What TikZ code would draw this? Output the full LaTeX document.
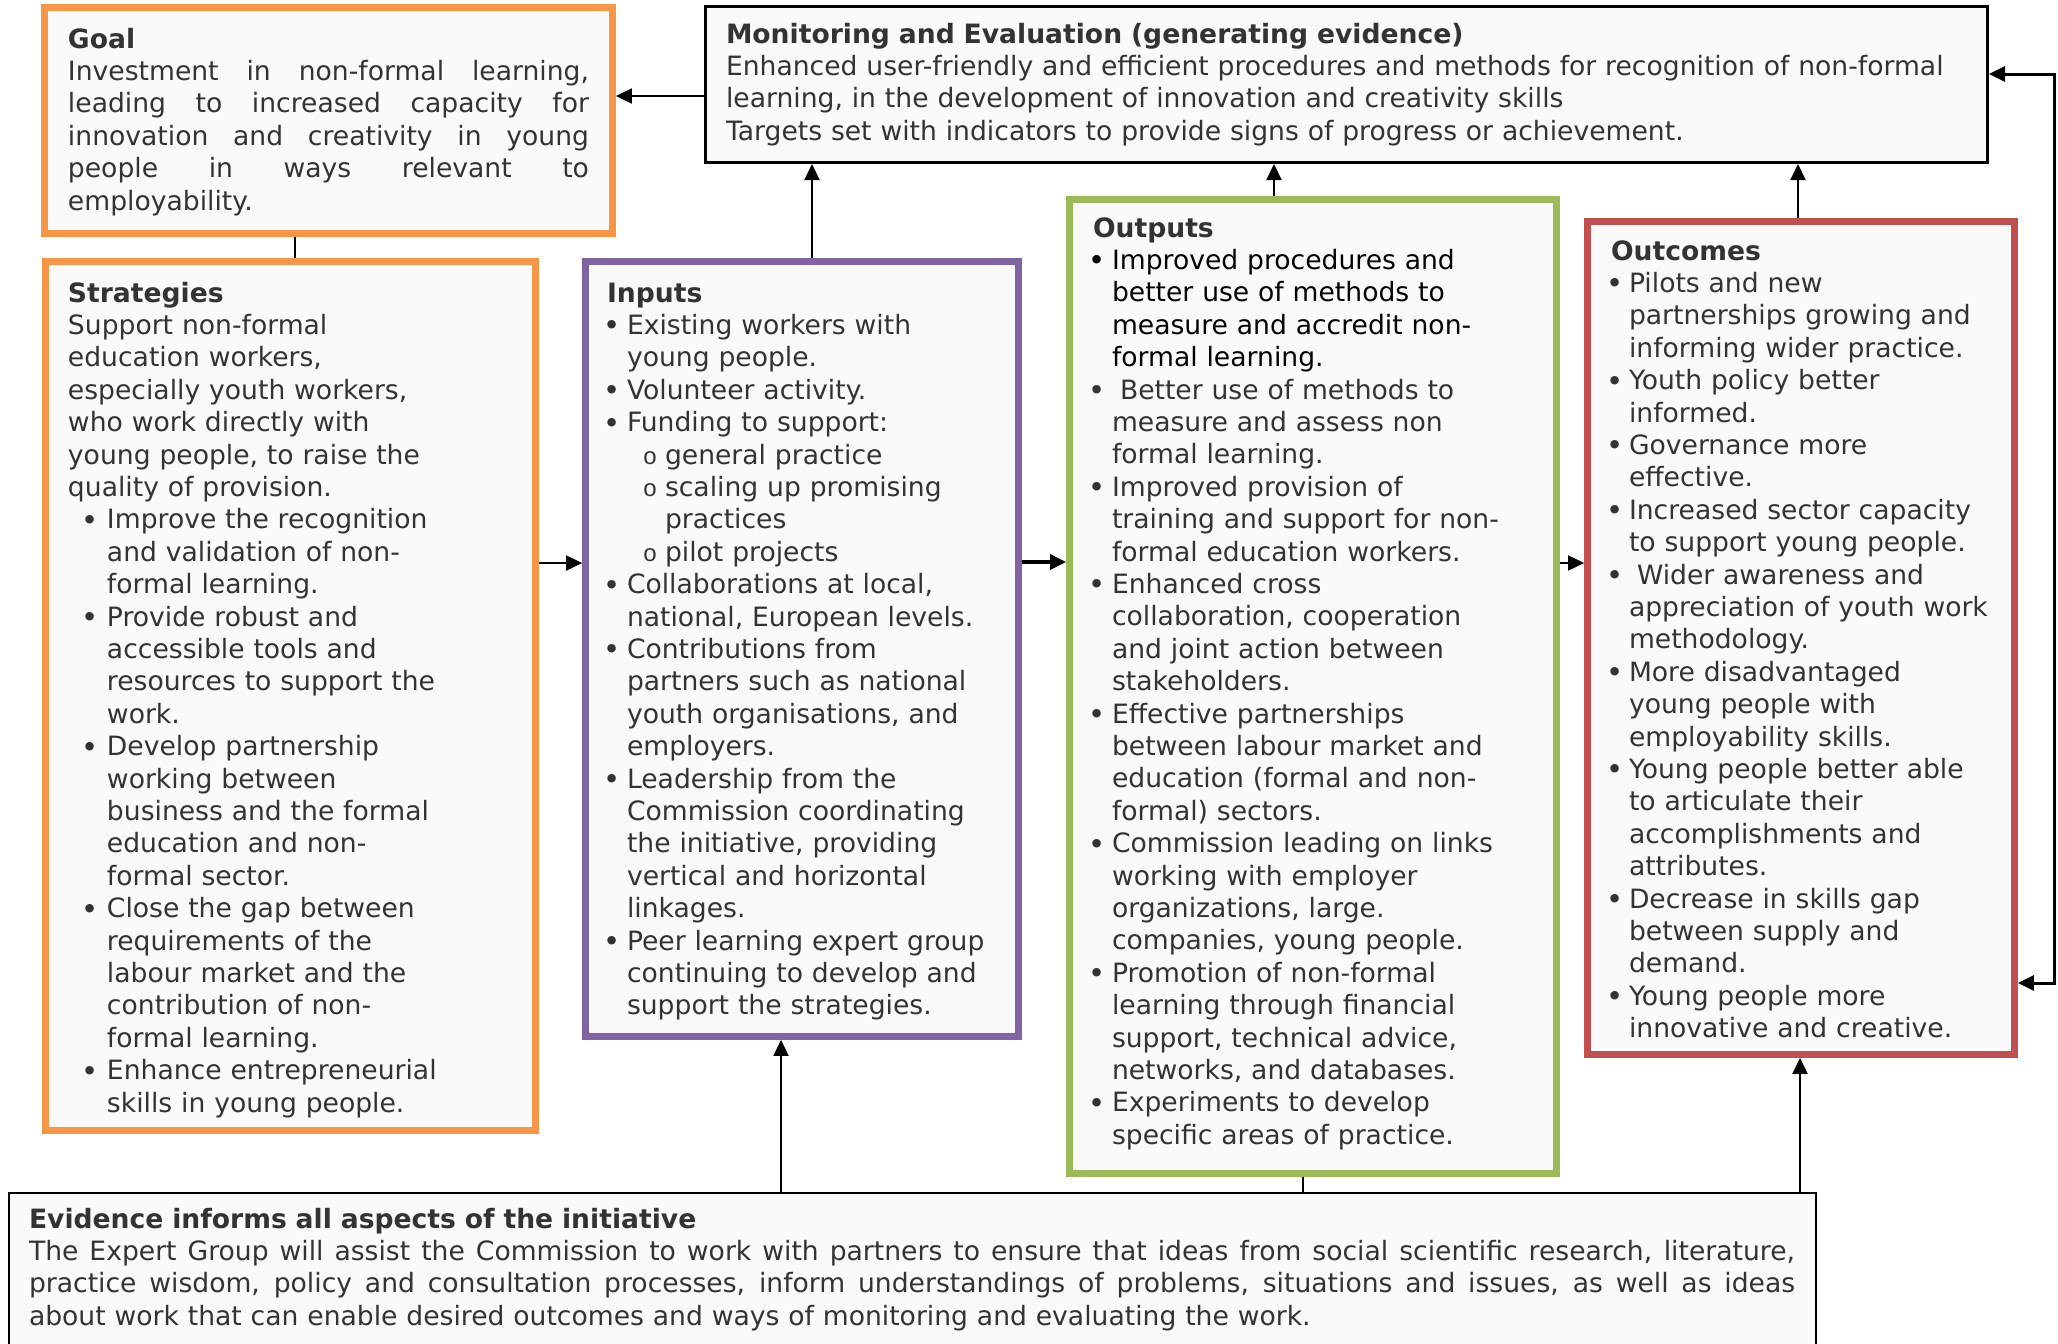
\documentclass[tikz,border=0pt]{standalone}
\usepackage{fontspec}
\setmainfont{DejaVu Sans}
\newfontfamily\monof{Liberation Mono}
\usetikzlibrary{arrows.meta,fit}
\definecolor{ora}{HTML}{F79646}
\definecolor{pur}{HTML}{8064A2}
\definecolor{grn}{HTML}{9BBB59}
\definecolor{redb}{HTML}{C0504D}
\definecolor{boxfill}{HTML}{FAFAFA}
\definecolor{txt}{HTML}{333333}
\newcommand\fs{\fontsize{13.3}{16.2}\selectfont}
\newlength\bc \newlength\tx \newlength\sbc \newlength\stx
\newcommand\bul{\raisebox{-0.7pt}{\fontsize{14.5}{14.5}\selectfont •}}
\newcommand\sbul{{\monof\fontsize{12}{12}\selectfont o}}
\newcommand\Bu[1]{\hspace*{\bc}\makebox[0pt]{\bul}\hspace*{\dimexpr\tx-\bc\relax}#1}
\newcommand\Ln[1]{\hspace*{\tx}#1}
\newcommand\Sb[1]{\hspace*{\sbc}\makebox[0pt]{\sbul}\hspace*{\dimexpr\stx-\sbc\relax}#1}
\newcommand\SLn[1]{\hspace*{\stx}#1}
\newcommand\J[1]{\makebox[\linewidth][s]{\spaceskip=\fontdimen2\font plus 1fil\relax\xspaceskip=\spaceskip#1}}
\tikzset{
  box/.style={draw, fill=boxfill, inner sep=0pt},
  cbox/.style={box, line width=3.4pt},
  txtnode/.style={anchor=base west, inner sep=0pt, outer sep=0pt, text width=#1, align=left, font=\fs, text=txt},
  txtnode/.default=420pt,
  arr/.style={line width=1pt, -{Triangle[length=8pt,width=7.5pt]}},
  plain/.style={line width=0.8pt},
}
\begin{document}
\begin{tikzpicture}[x=0.5pt,y=-0.5pt]
\fill[white] (0,0) rectangle (2058,1344);
\useasboundingbox (0,0) rectangle (2058,1344);
% boxes
\node[cbox, draw=ora, fit={(44.5,7.5)(612.5,233.5)}] (goal) {};
\node[box, line width=1.5pt, draw=black, fit={(705.5,6.5)(1987.5,162.5)}] (mon) {};
\node[cbox, draw=ora, fit={(45.5,261.5)(535.5,1130.5)}] (strat) {};
\node[cbox, draw=pur, fit={(585.5,261.5)(1018.5,1036.5)}] (inp) {};
\node[cbox, draw=grn, fit={(1069.5,199.5)(1556.5,1173.5)}] (outp) {};
\node[cbox, draw=redb, fit={(1587.5,221.5)(2014.5,1054.5)}] (outc) {};
\node[box, line width=1.1pt, draw=black, fit={(9,1193)(1816,1370)}] (evid) {};
% texts
\node[txtnode=260.5pt] (goalt) at (68,48) {{\bfseries Goal}\\
\J{Investment in non-formal learning,}\\
\J{leading to increased capacity for}\\
\J{innovation and creativity in young}\\
\J{people in ways relevant to}\\
employability.};
\node[txtnode=660pt] (mont) at (726,43) {{\bfseries Monitoring and Evaluation (generating evidence)}\\
Enhanced user-friendly and efficient procedures and methods for recognition of non-formal\\
learning, in the development of innovation and creativity skills\\
Targets set with indicators to provide signs of progress or achievement.};
\node[txtnode] (stratt) at (68,302) {\setlength\bc{11pt}\setlength\tx{19.5pt}{\bfseries Strategies}\\
Support non-formal\\
education workers,\\
especially youth workers,\\
who work directly with\\
young people, to raise the\\
quality of provision.\\
\Bu{Improve the recognition}\\
\Ln{and validation of non-}\\
\Ln{formal learning.}\\
\Bu{Provide robust and}\\
\Ln{accessible tools and}\\
\Ln{resources to support the}\\
\Ln{work.}\\
\Bu{Develop partnership}\\
\Ln{working between}\\
\Ln{business and the formal}\\
\Ln{education and non-}\\
\Ln{formal sector.}\\
\Bu{Close the gap between}\\
\Ln{requirements of the}\\
\Ln{labour market and the}\\
\Ln{contribution of non-}\\
\Ln{formal learning.}\\
\Bu{Enhance entrepreneurial}\\
\Ln{skills in young people.}};
\node[txtnode] (inpt) at (607,302) {\setlength\bc{2.5pt}\setlength\tx{10pt}\setlength\sbc{21.5pt}\setlength\stx{29pt}{\bfseries Inputs}\\
\Bu{Existing workers with}\\
\Ln{young people.}\\
\Bu{Volunteer activity.}\\
\Bu{Funding to support:}\\
\Sb{general practice}\\
\Sb{scaling up promising}\\
\SLn{practices}\\
\Sb{pilot projects}\\
\Bu{Collaborations at local,}\\
\Ln{national, European levels.}\\
\Bu{Contributions from}\\
\Ln{partners such as national}\\
\Ln{youth organisations, and}\\
\Ln{employers.}\\
\Bu{Leadership from the}\\
\Ln{Commission coordinating}\\
\Ln{the initiative, providing}\\
\Ln{vertical and horizontal}\\
\Ln{linkages.}\\
\Bu{Peer learning expert group}\\
\Ln{continuing to develop and}\\
\Ln{support the strategies.}};
\node[txtnode] (outpt) at (1093,237) {\setlength\bc{2pt}\setlength\tx{9.5pt}{\bfseries Outputs}\\
\color{black}\Bu{Improved procedures and}\\
\Ln{better use of methods to}\\
\Ln{measure and accredit non-}\\
\Ln{formal learning.}\color{txt}\\
\Bu{\hspace*{4pt}Better use of methods to}\\
\Ln{measure and assess non}\\
\Ln{formal learning.}\\
\Bu{Improved provision of}\\
\Ln{training and support for non-}\\
\Ln{formal education workers.}\\
\Bu{Enhanced cross}\\
\Ln{collaboration, cooperation}\\
\Ln{and joint action between}\\
\Ln{stakeholders.}\\
\Bu{Effective partnerships}\\
\Ln{between labour market and}\\
\Ln{education (formal and non-}\\
\Ln{formal) sectors.}\\
\Bu{Commission leading on links}\\
\Ln{working with employer}\\
\Ln{organizations, large.}\\
\Ln{companies, young people.}\\
\Bu{Promotion of non-formal}\\
\Ln{learning through financial}\\
\Ln{support, technical advice,}\\
\Ln{networks, and databases.}\\
\Bu{Experiments to develop}\\
\Ln{specific areas of practice.}};
\node[txtnode] (outct) at (1611,260) {\setlength\bc{2pt}\setlength\tx{9pt}{\bfseries Outcomes}\\
\Bu{Pilots and new}\\
\Ln{partnerships growing and}\\
\Ln{informing wider practice.}\\
\Bu{Youth policy better}\\
\Ln{informed.}\\
\Bu{Governance more}\\
\Ln{effective.}\\
\Bu{Increased sector capacity}\\
\Ln{to support young people.}\\
\Bu{\hspace*{4pt}Wider awareness and}\\
\Ln{appreciation of youth work}\\
\Ln{methodology.}\\
\Bu{More disadvantaged}\\
\Ln{young people with}\\
\Ln{employability skills.}\\
\Bu{Young people better able}\\
\Ln{to articulate their}\\
\Ln{accomplishments and}\\
\Ln{attributes.}\\
\Bu{Decrease in skills gap}\\
\Ln{between supply and}\\
\Ln{demand.}\\
\Bu{Young people more}\\
\Ln{innovative and creative.}};
\node[txtnode=883pt] (evidt) at (29,1228) {{\bfseries Evidence informs all aspects of the initiative}\\
\J{The Expert Group will assist the Commission to work with partners to ensure that ideas from social scientific research, literature,}\\
\J{practice wisdom, policy and consultation processes, inform understandings of problems, situations and issues, as well as ideas}\\
about work that can enable desired outcomes and ways of monitoring and evaluating the work.};
% helper coordinates
\coordinate (y74) at (0,74);
\coordinate (y96) at (0,96);
\coordinate (y562) at (0,562);
\coordinate (y563) at (0,563);
\coordinate (y983) at (0,983);
\coordinate (x295) at (295,0);
\coordinate (x781) at (781,0);
\coordinate (x812) at (812,0);
\coordinate (x1274) at (1274,0);
\coordinate (x1303) at (1303,0);
\coordinate (x1798) at (1798,0);
\coordinate (x1800) at (1800,0);
\coordinate (fb) at (2054,74);
% connectors
\draw[arr] (mon.west |- y96) -- (goal.east |- y96);
\draw[plain] (goal.south -| x295) -- (strat.north -| x295);
\draw[arr] (strat.east |- y563) -- (inp.west |- y563);
\draw[arr, line width=1.6pt] (inp.east |- y562) -- (outp.west |- y562);
\draw[arr] (outp.east |- y563) -- (outc.west |- y563);
\draw[arr] (inp.north -| x812) -- (mon.south -| x812);
\draw[arr] (outp.north -| x1274) -- (mon.south -| x1274);
\draw[arr] (outc.north -| x1798) -- (mon.south -| x1798);
\draw[arr] (evid.north -| x781) -- (inp.south -| x781);
\draw[arr] (evid.north -| x1800) -- (outc.south -| x1800);
\draw[plain] (outp.south -| x1303) -- (evid.north -| x1303);
\draw[line width=1.5pt, {Triangle[length=8pt,width=7.5pt]}-{Triangle[length=8pt,width=7.5pt]}]
  (outc.east |- y983) -| (fb) -- (mon.east |- y74);
\end{tikzpicture}
\end{document}
